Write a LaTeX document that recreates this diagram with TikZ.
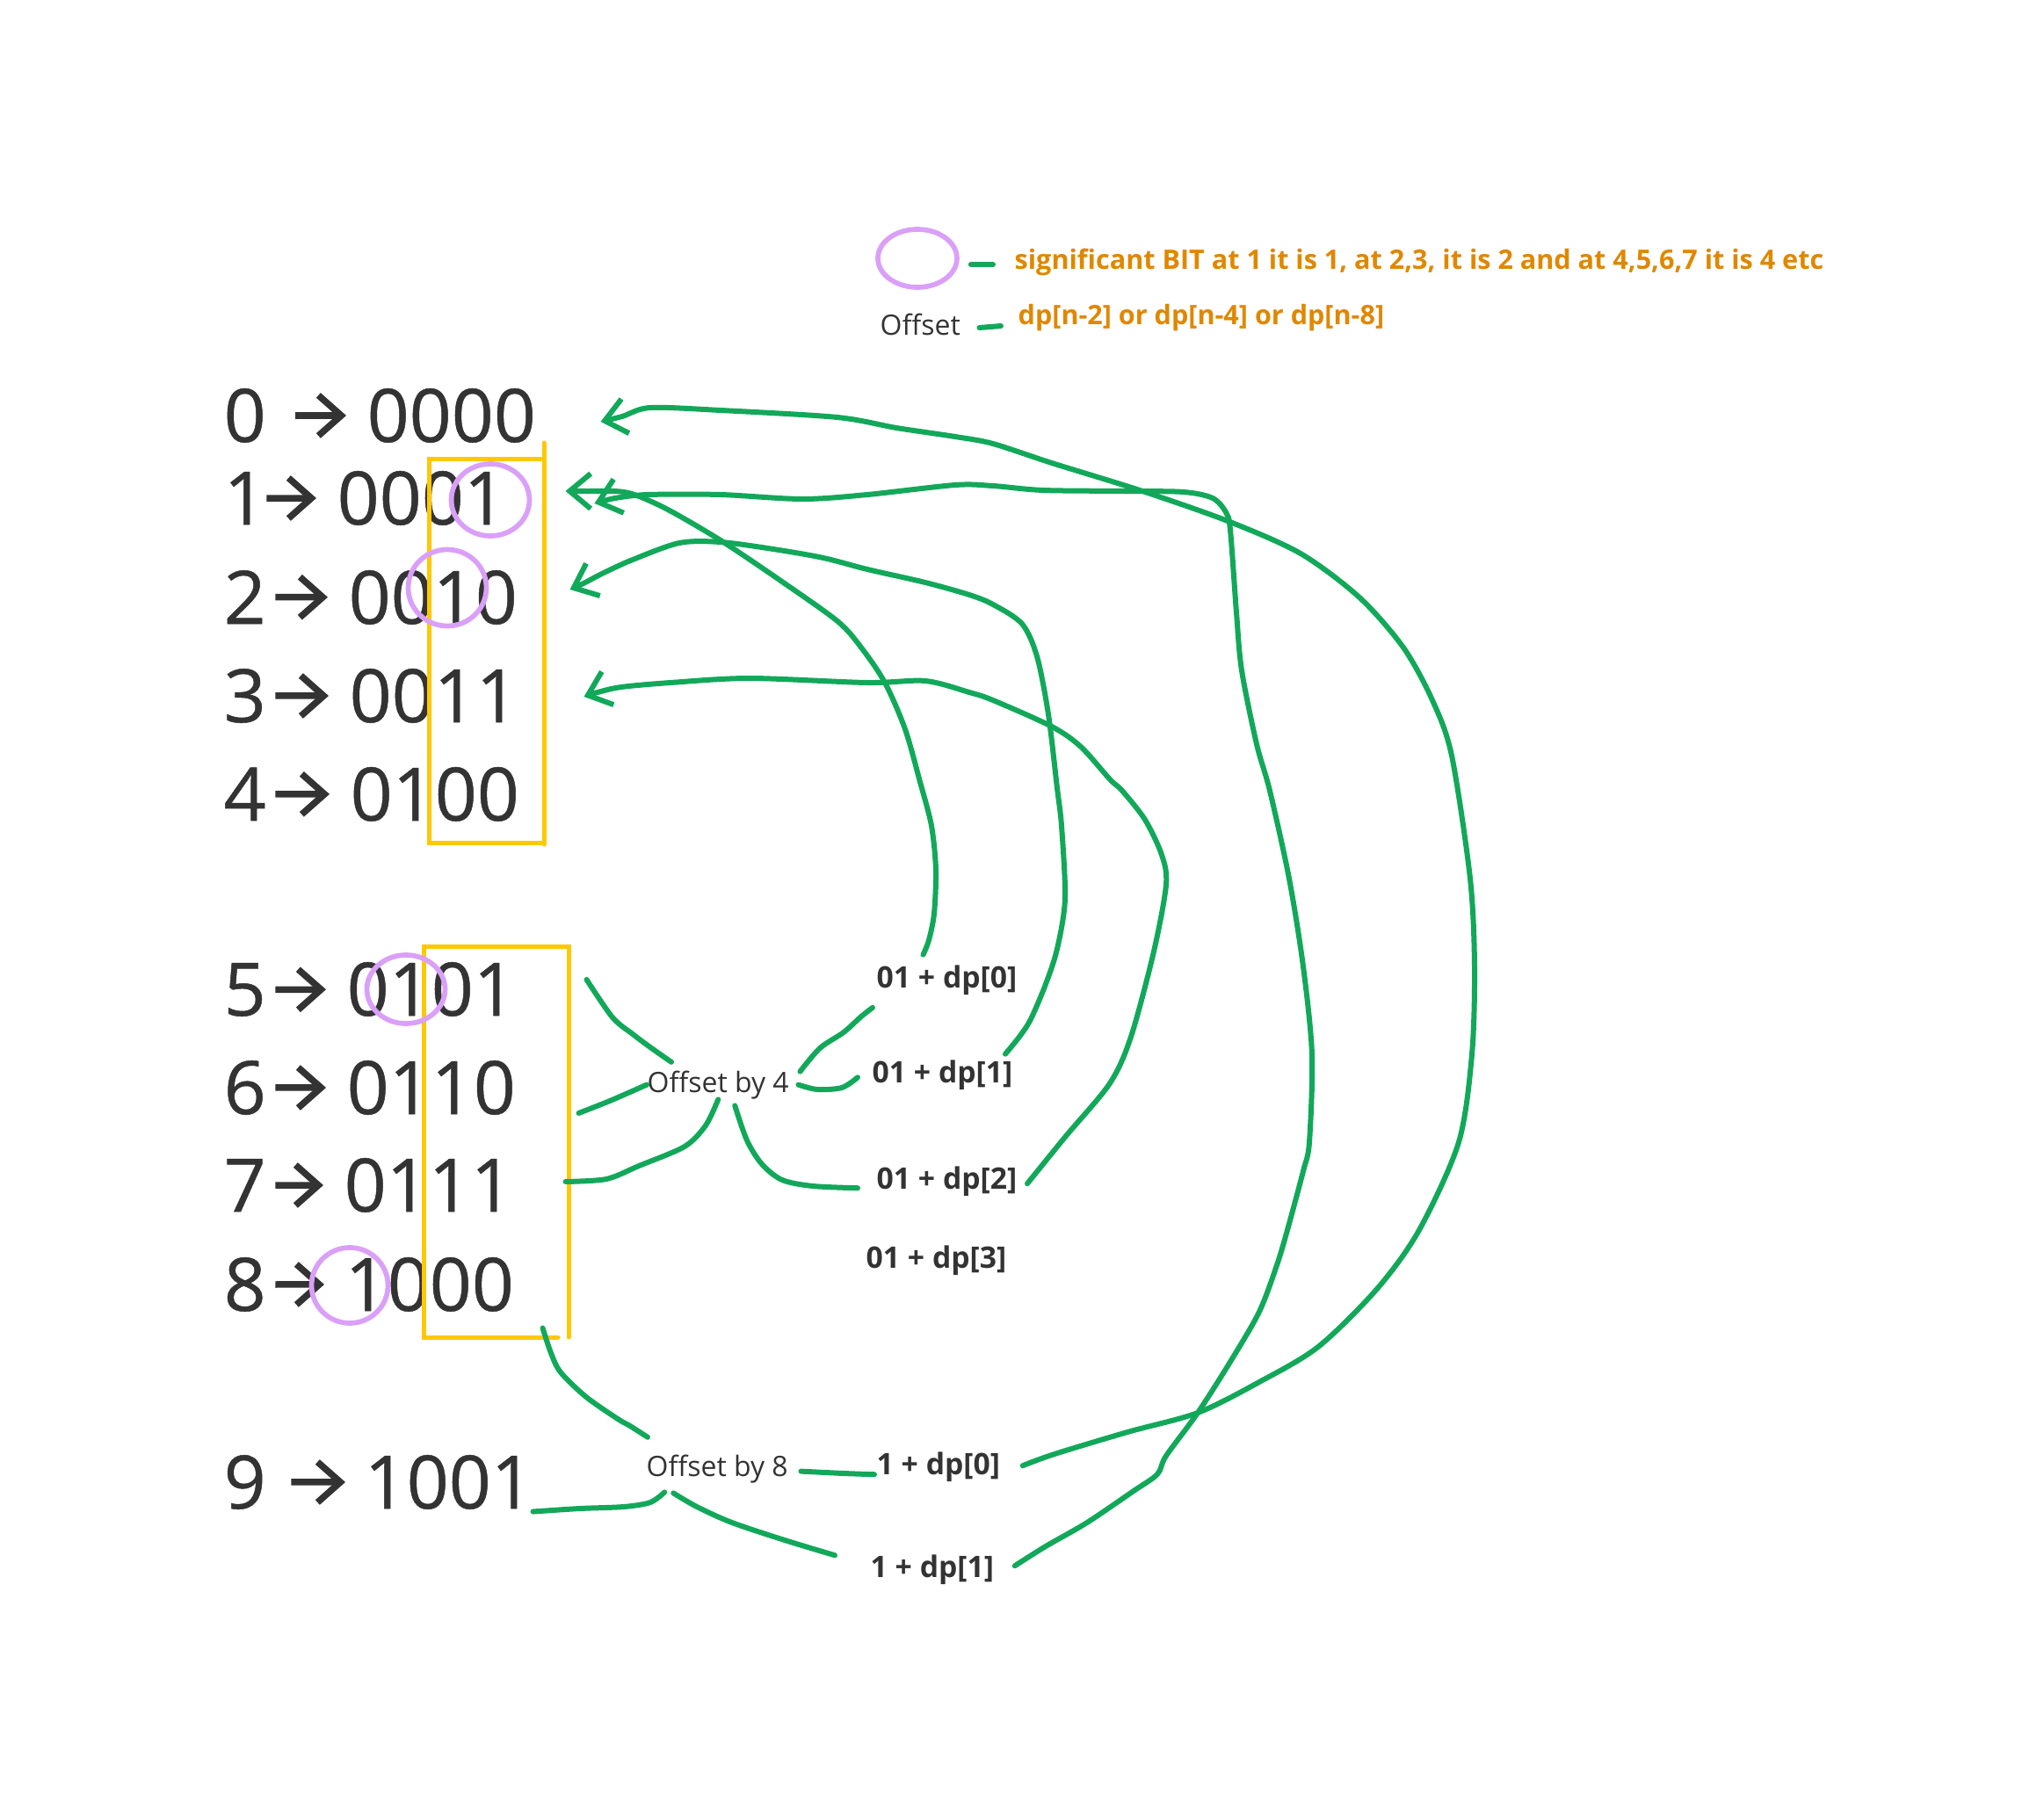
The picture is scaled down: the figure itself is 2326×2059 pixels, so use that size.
\documentclass[tikz,border=0pt]{standalone}
\usepackage{fontspec}
\setmainfont{Open Sans}
\newfontfamily\numfont{Open Sans}[FakeBold=0.6]
\usepackage{xcolor}
\usepackage{tikz}
\usetikzlibrary{positioning, calc, arrows.meta, shapes.geometric}
\definecolor{inkGray}{RGB}{51, 51, 51}
\definecolor{penGreen}{RGB}{18, 168, 90}
\definecolor{ringPurple}{RGB}{218, 160, 248}
\definecolor{boxYellow}{RGB}{255, 200, 0}
\definecolor{noteOrange}{RGB}{224, 135, 0}
\tikzset{
    bignum/.style={
        anchor=base west, inner sep=0pt, text=inkGray, font=\numfont\fontsize{23.9}{28}\selectfont
    },
    sumlbl/.style={
        anchor=base west, inner sep=0pt, text=inkGray, font=\fontsize{9.6}{12}\selectfont\bfseries
    },
    offlbl/.style={
        anchor=base west, inner sep=0pt, text=inkGray, font=\fontsize{9.1}{11}\selectfont
    },
    notelbl/.style={
        anchor=base west, inner sep=0pt, text=noteOrange, font=\fontsize{8.7}{11}\selectfont\bfseries
    },
    binarrow/.style={
        -{Straight Barb[length=2.6mm, width=4.6mm]}, line width=0.75mm, draw=inkGray,
        shorten <=1mm, shorten >=2.3mm
    }
}

\begin{document}
\begin{tikzpicture}[
        x=0.1mm, y=-0.1mm,
        % --- STYLE ---
        link/.style={draw=penGreen, line width=0.6mm, line cap=round, line join=round},
        linkarrow/.style={link, -{Straight Barb[length=2.4mm, width=4mm]}},
        ring/.style={ellipse, draw=ringPurple, line width=0.57mm, inner sep=0pt},
        hilite/.style={draw=boxYellow, line width=0.5mm, line cap=round}
    ]
    \useasboundingbox (0,0) rectangle (2326,2059);

    % --- LEGEND ---
    \node[ring, minimum width=9mm, minimum height=6.6mm] (keyRing) at (1044,294) {};
    \node[notelbl] (keyTxt) at (1154,306) {significant BIT at 1 it is 1, at 2,3, it is 2 and at 4,5,6,7 it is 4 etc};
    \node[offlbl] (keyOff) at (1001,381) {Offset};
    \node[notelbl] (keyOffTxt) at (1158,369) {dp[n-2] or dp[n-4] or dp[n-8]};
    \draw[link] ($(keyRing.east)+(13,7)$) -- ($(keyTxt.base west)+(-24,-5)$);
    \draw[link] ($(keyOff.base east)+(21,-8)$) -- ($(keyOffTxt.base west)+(-19,2)$);

    % --- NUMBERS AND BITS ---
    \node[bignum] (num0) at (254,503) {0};
    \node[bignum] (bin0) at (417,503) {0000};
    \draw[binarrow, shorten <=3.3mm] (num0) -- (bin0);

    \node[bignum] (num1) at (254,597) {1};
    \node[bignum] (bin1) at (383,597) {0001};
    \draw[binarrow, shorten <=0mm] (num1) -- (bin1);

    \node[bignum] (num2) at (254,710) {2};
    \node[bignum] (bin2) at (396,710) {0010};
    \draw[binarrow] (num2) -- (bin2);

    \node[bignum] (num3) at (254,822) {3};
    \node[bignum] (bin3) at (397,822) {0011};
    \draw[binarrow] (num3) -- (bin3);

    \node[bignum] (num4) at (254,934) {4};
    \node[bignum] (bin4) at (398,934) {0100};
    \draw[binarrow] (num4) -- (bin4);

    \node[bignum] (num5) at (254,1156) {5};
    \node[bignum] (bin5) at (394,1156) {0101};
    \draw[binarrow] (num5) -- (bin5);

    \node[bignum] (num6) at (254,1268) {6};
    \node[bignum] (bin6) at (394,1268) {0110};
    \draw[binarrow] (num6) -- (bin6);

    \node[bignum] (num7) at (254,1379) {7};
    \node[bignum] (bin7) at (391,1379) {0111};
    \draw[binarrow] (num7) -- (bin7);

    \node[bignum] (num8) at (254,1492) {8};
    \node[bignum] (bin8) at (392,1492) {1000};
    \draw[binarrow] (num8) -- (bin8);

    \node[bignum] (num9) at (254,1717) {9};
    \node[bignum] (bin9) at (414,1717) {1001};
    \draw[binarrow, shorten <=2.8mm, shorten >=2.1mm] (num9) -- (bin9);

    % --- YELLOW BOXES ---
    \draw[hilite] (617,522) -- (488,522) -- (488,959) -- (619,959);
    \draw[hilite] (619,504) -- (619,961);
    \draw[hilite] (635,1522) -- (482,1522) -- (482,1077) -- (647,1077) -- (647,1522);

    % --- SIGNIFICANT BITS ---
    \node[ring, minimum width=8.9mm, minimum height=8.2mm] (ring1) at (558,569) {};
    \node[ring, minimum width=8.9mm, minimum height=8.7mm] (ring2) at (509,669) {};
    \node[ring, minimum width=8.9mm, minimum height=7.8mm] (ring5) at (462,1126) {};
    \node[ring, minimum width=8.7mm, minimum height=8.6mm] (ring8) at (398,1463) {};

    % --- OFFSET LABELS ---
    \node[offlbl] (off4) at (736,1243) {Offset by 4};
    \node[sumlbl] (add40) at (997,1124) {01 + dp[0]};
    \node[sumlbl] (add41) at (992,1232) {01 + dp[1]};
    \node[sumlbl] (add42) at (997,1353) {01 + dp[2]};
    \node[sumlbl] (add43) at (985,1443) {01 + dp[3]};

    \node[offlbl] (off8) at (735,1680) {Offset by 8};
    \node[sumlbl] (add80) at (997,1678) {1 + dp[0]};
    \node[sumlbl] (add81) at (990,1795) {1 + dp[1]};

    % --- OFFSET BY 4 SPOKES ---
    \coordinate (s5) at ($(bin5.east)+(80,-11)$);
    \coordinate (t5) at ($(off4.north west)+(28,-9)$);
    \coordinate (s6) at ($(bin6.east)+(71,29)$);
    \coordinate (s7) at ($(bin7.east)+(59,-4)$);
    \draw[link] plot[smooth] coordinates {(s5) (697,1158) (720,1177) (740,1192) (t5)};
    \draw[link] plot[smooth] coordinates {(s6) (694,1253) (off4.west)};
    \draw[link] plot[smooth] coordinates {(s7) (690,1342) (727,1327) (779,1305) (803,1281) (off4.south)};

    \coordinate (s40) at ($(off4.east)+(12,-15)$);
    \coordinate (t40) at ($(add40.south west)+(-4,14)$);
    \coordinate (s41) at ($(off4.east)+(10,0)$);
    \coordinate (t41) at ($(add41.west)+(-16,3)$);
    \coordinate (s42) at ($(off4.south)+(19,7)$);
    \coordinate (t42) at ($(add42.west)+(-21,8)$);
    \draw[link] plot[smooth] coordinates {(s40) (933,1193) (960,1175) (980,1157) (t40)};
    \draw[link] plot[smooth] coordinates {(s41) (930,1240) (958,1238) (t41)};
    \draw[link] plot[smooth] coordinates {(s42) (850,1298) (867,1325) (890,1343) (925,1350) (t42)};

    % --- OFFSET BY 8 SPOKES ---
    \coordinate (s8) at ($(bin8.south east)+(32,18)$);
    \coordinate (t8) at ($(off8.north west)+(2,-19)$);
    \coordinate (s9) at ($(bin9.south east)+(-1,2)$);
    \coordinate (t9) at ($(off8.south)+(-60,10)$);
    \coordinate (s80) at ($(off8.east)+(14,3)$);
    \coordinate (t80) at ($(add80.west)+(-2,9)$);
    \coordinate (s81) at ($(off8.south)+(-50,11)$);
    \coordinate (t81) at ($(add81.west)+(-40,-16)$);
    \draw[link] plot[smooth] coordinates {(s8) (627,1540) (638,1562) (667,1590) (703,1615) (717,1623) (t8)};
    \draw[link] plot[smooth] coordinates {(s9) (660,1717) (710,1715) (740,1710) (t9)};
    \draw[link] plot[smooth] coordinates {(s80) (960,1677) (t80)};
    \draw[link] plot[smooth] coordinates {(s81) (793,1715) (833,1733) (893,1753) (t81)};

    % --- LINKS BACK TO THE BASE ROWS ---
    \coordinate (aS) at ($(add80.east)+(25,-1)$);
    \coordinate (aT) at ($(bin0.east)+(73,7)$);
    \draw[linkarrow] plot[smooth, tension=0.5] coordinates {(aS) (1200,1655) (1283,1630) (1363,1608)
        (1433,1573) (1500,1533) (1567,1467) (1615,1400) (1660,1300) (1675,1200) (1678,1100)
        (1673,1000) (1652,860) (1630,797) (1597,737) (1547,680) (1480,630) (1397,593)
        (1297,558) (1197,527) (1130,505) (1087,497) (1020,487) (953,475) (820,467)
        (740,464) (708,474) (aT)};

    \coordinate (bS) at ($(add40.north)+(-27,-11)$);
    \coordinate (bT) at ($(bin1.east)+(67,-8)$);
    \draw[linkarrow] plot[smooth, tension=0.5] coordinates {(bS) (1057,1070) (1063,1040) (1065,990)
        (1060,940) (1047,890) (1030,830) (1007,777) (980,737) (953,707) (887,660) (820,615)
        (760,580) (722,563) (700,559) (670,559) (bT)};

    \coordinate (cS) at ($(add81.east)+(23,-4)$);
    \coordinate (cT) at ($(bin1.east)+(100,6)$);
    \draw[linkarrow] plot[smooth, tension=0.5] coordinates {(cS) (1190,1760) (1237,1733) (1290,1697)
        (1317,1678) (1327,1657) (1363,1608) (1400,1550) (1433,1493) (1453,1440) (1465,1400)
        (1483,1333) (1490,1300) (1493,1200) (1483,1100) (1467,1000) (1445,900) (1430,847)
        (1413,763) (1407,697) (1400,603) (1395,583) (1380,567) (1347,560) (1280,559)
        (1187,558) (1130,553) (1087,552) (987,563) (913,568) (820,563) (737,563) (700,567) (cT)};

    \coordinate (dS) at ($(add41.north east)+(-9,-6)$);
    \coordinate (dT) at ($(bin2.east)+(59,-9)$);
    \draw[linkarrow] plot[smooth, tension=0.5] coordinates {(dS) (1160,1180) (1173,1160) (1190,1120)
        (1203,1080) (1212,1023) (1208,940) (1203,897) (1193,813) (1180,747) (1163,710)
        (1130,688) (1103,677) (1053,663) (987,648) (937,635) (880,625) (820,617) (773,618)
        (720,637) (687,652) (664,664) (dT)};

    \coordinate (eS) at ($(add42.east)+(11,3)$);
    \coordinate (eT) at ($(bin3.east)+(74,1)$);
    \draw[linkarrow] plot[smooth, tension=0.5] coordinates {(eS) (1213,1293) (1263,1233) (1287,1180)
        (1313,1083) (1327,1007) (1322,973) (1303,933) (1277,900) (1263,887) (1230,850)
        (1197,827) (1130,797) (1103,788) (1053,775) (987,777) (853,772) (763,777) (707,782)
        (680,788) (eT)};

\end{tikzpicture}
\end{document}
